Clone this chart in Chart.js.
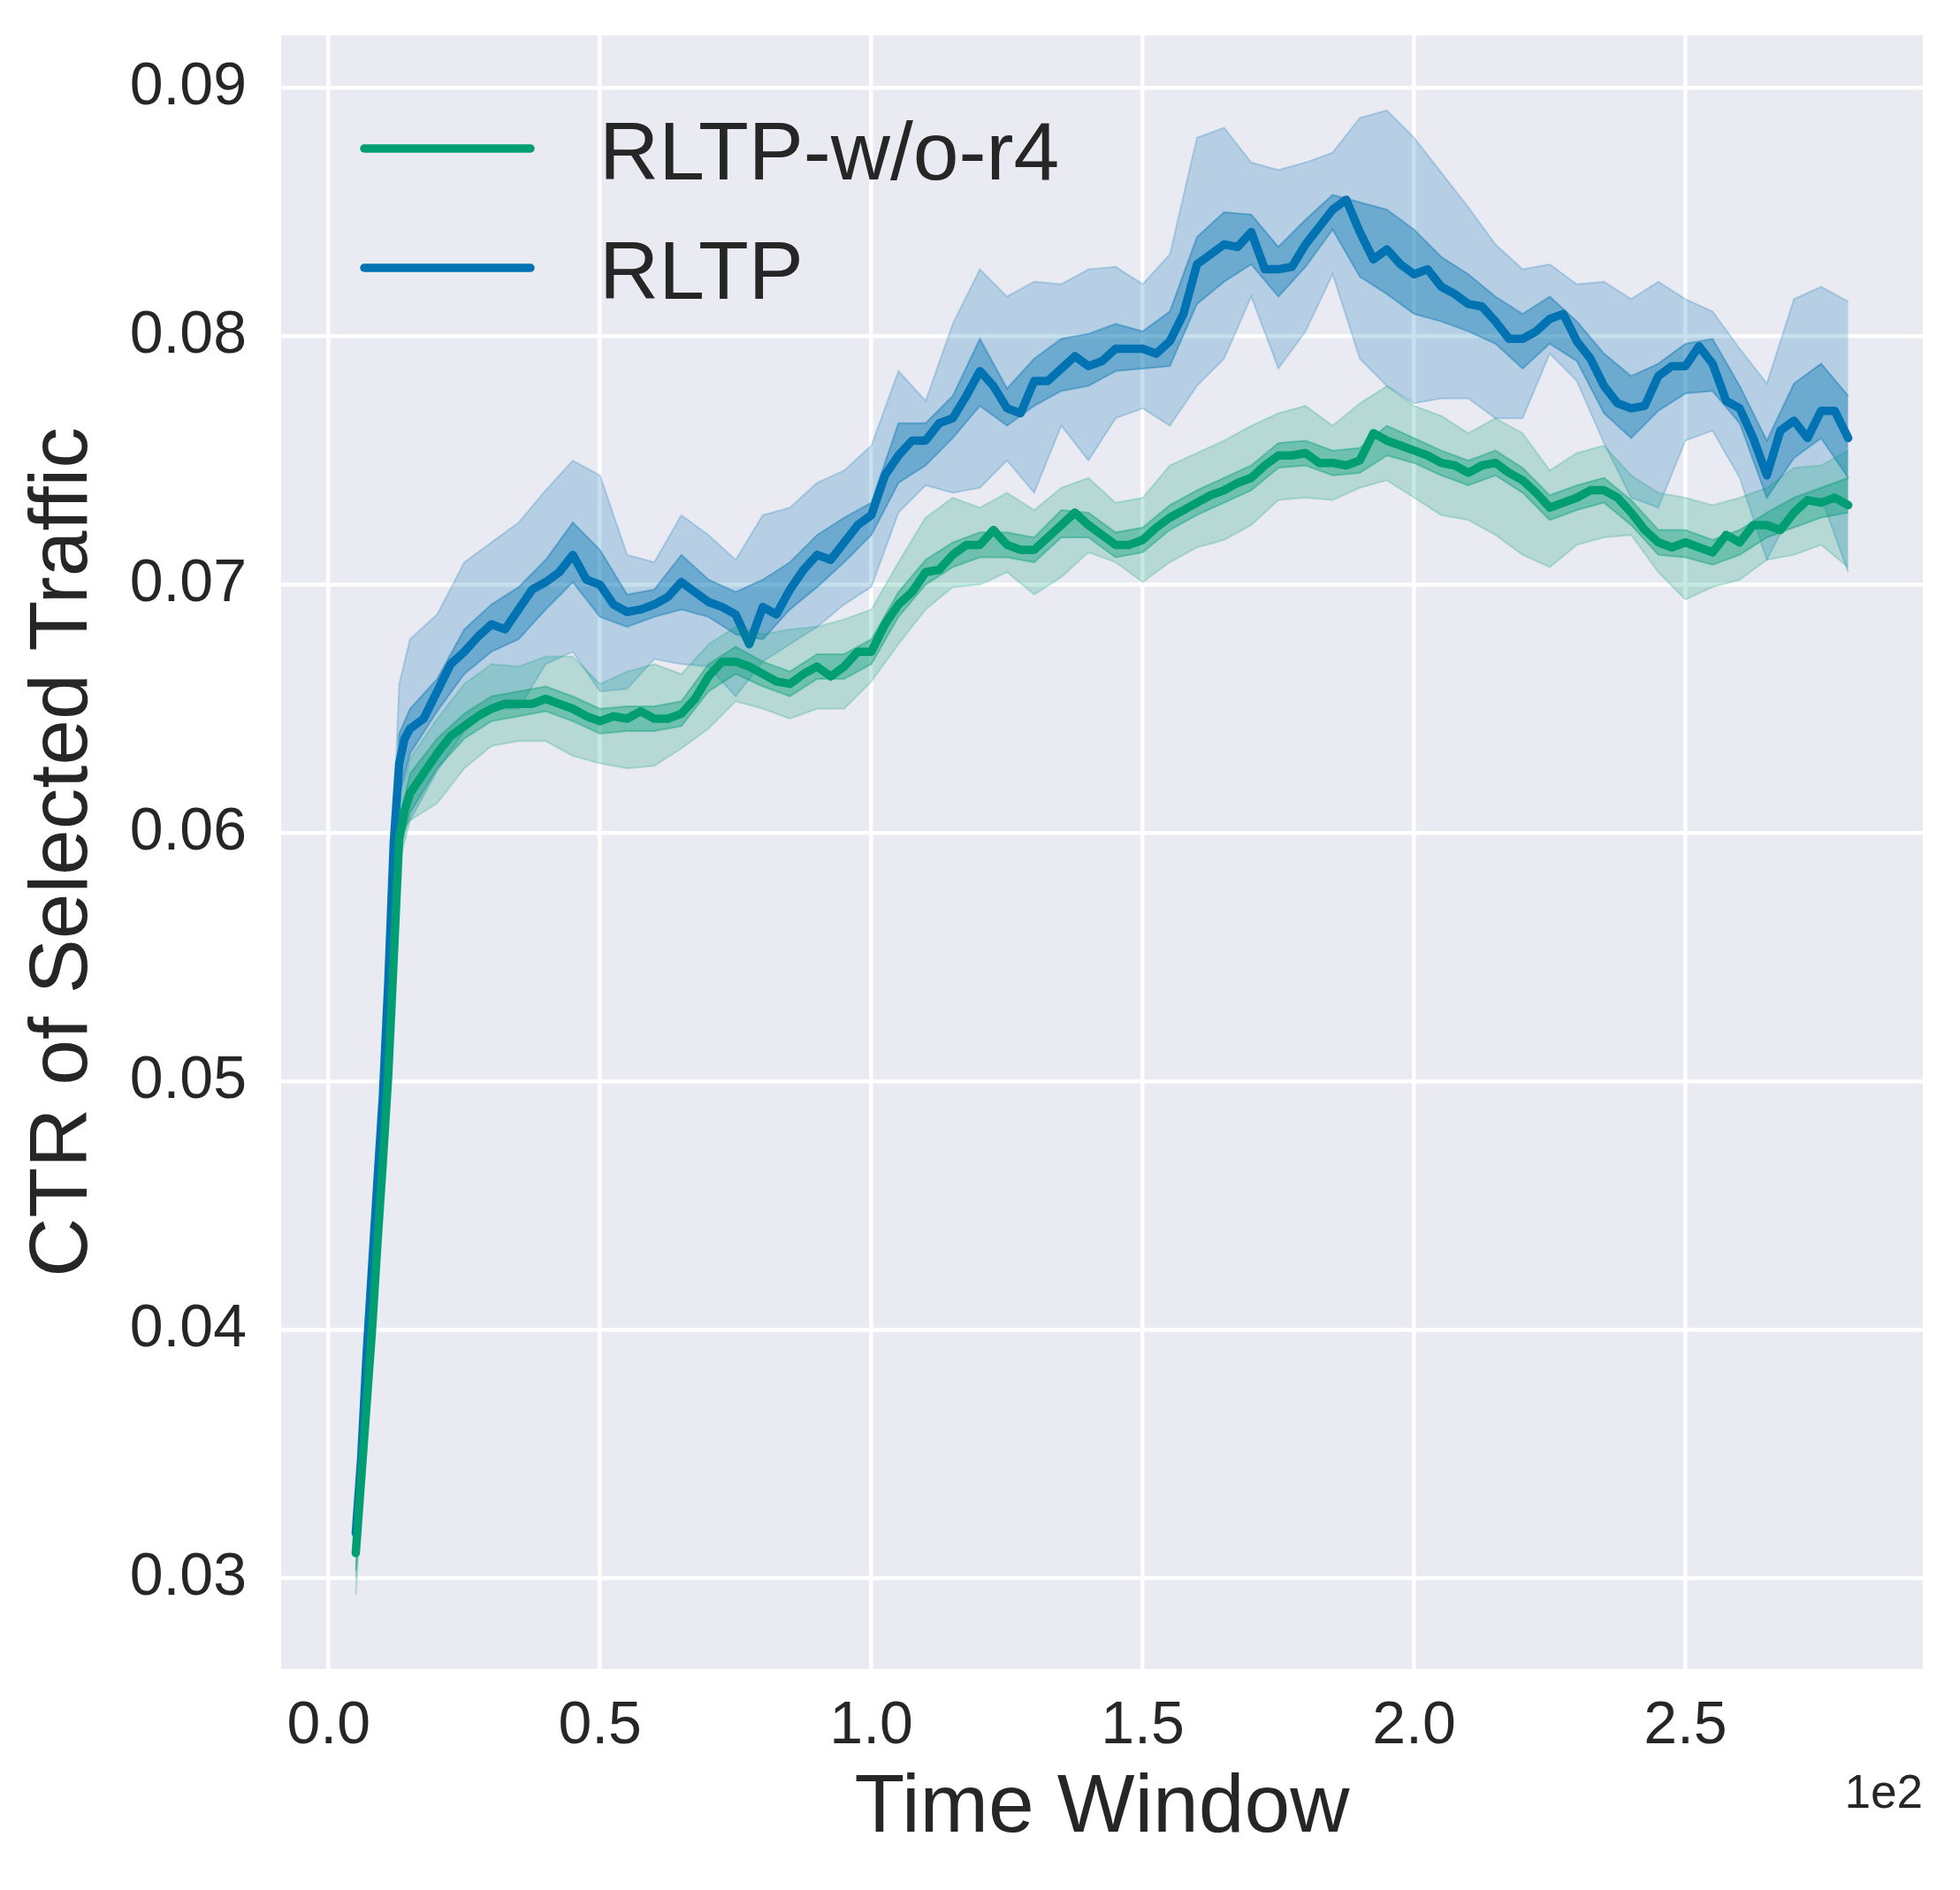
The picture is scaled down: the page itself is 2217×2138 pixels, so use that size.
<!DOCTYPE html>
<html>
<head>
<meta charset="utf-8">
<script src="https://cdn.jsdelivr.net/npm/chart.js@4.4.1/dist/chart.umd.min.js"></script>
<style>
  html, body { margin: 0; padding: 0; background: #fff; }
  #chart { display: block; }
</style>
</head>
<body>
<canvas id="chart" width="2217" height="2138"></canvas>
<script>
// time windows of the mean curves (raw units, axis shows them x1e2)
const tMean = [5, 6, 7, 8, 9, 10, 11, 12, 13, 14,
  15, 17.5, 20, 22.5, 25, 27.5, 30, 32.5, 35, 37.5,
  40, 42.5, 45, 47.5, 50, 52.5, 55, 57.5, 60, 62.5,
  65, 67.5, 70, 72.5, 75, 77.5, 80, 82.5, 85, 87.5,
  90, 92.5, 95, 97.5, 100, 102.5, 105, 107.5, 110, 112.5,
  115, 117.5, 120, 122.5, 125, 127.5, 130, 132.5, 135, 137.5,
  140, 142.5, 145, 147.5, 150, 152.5, 155, 157.5, 160, 162.5,
  165, 167.5, 170, 172.5, 175, 177.5, 180, 182.5, 185, 187.5,
  190, 192.5, 195, 197.5, 200, 202.5, 205, 207.5, 210, 212.5,
  215, 217.5, 220, 222.5, 225, 227.5, 230, 232.5, 235, 237.5,
  240, 242.5, 245, 247.5, 250, 252.5, 255, 257.5, 260, 262.5,
  265, 267.5, 270, 272.5, 275, 277.5, 280];

const rltpMean = [0.0318, 0.0348, 0.0390, 0.0425, 0.0460, 0.0494, 0.0540, 0.0596, 0.0628, 0.0638,
  0.0642, 0.0646, 0.0657, 0.0668, 0.0673, 0.0679, 0.0684, 0.0682, 0.0690, 0.0698,
  0.0701, 0.0705, 0.0712, 0.0702, 0.0700, 0.0692, 0.0689, 0.0690, 0.0692, 0.0695,
  0.0701, 0.0697, 0.0693, 0.0691, 0.0688, 0.0676, 0.0691, 0.0688, 0.0698, 0.0706,
  0.0712, 0.0710, 0.0717, 0.0724, 0.0728, 0.0744, 0.0752, 0.0758, 0.0758, 0.0765,
  0.0767, 0.0776, 0.0786, 0.0780, 0.0771, 0.0769, 0.0782, 0.0782, 0.0787, 0.0792,
  0.0788, 0.0790, 0.0795, 0.0795, 0.0795, 0.0793, 0.0798, 0.0809, 0.0829, 0.0833,
  0.0837, 0.0836, 0.0842, 0.0827, 0.0827, 0.0828, 0.0837, 0.0844, 0.0851, 0.0855,
  0.0842, 0.0831, 0.0835, 0.0829, 0.0825, 0.0827, 0.0820, 0.0817, 0.0813, 0.0812,
  0.0806, 0.0799, 0.0799, 0.0802, 0.0807, 0.0809, 0.0798, 0.0791, 0.0780, 0.0773,
  0.0771, 0.0772, 0.0784, 0.0788, 0.0788, 0.0796, 0.0789, 0.0774, 0.0771, 0.0759,
  0.0744, 0.0762, 0.0766, 0.0759, 0.0770, 0.0770, 0.0759];

const noR4Mean = [0.0310, 0.0340, 0.0370, 0.0400, 0.0435, 0.0468, 0.0503, 0.0550, 0.0598, 0.0609,
  0.0616, 0.0624, 0.0632, 0.0639, 0.0643, 0.0647, 0.0650, 0.0652, 0.0652, 0.0652,
  0.0654, 0.0652, 0.0650, 0.0647, 0.0645, 0.0647, 0.0646, 0.0649, 0.0646, 0.0646,
  0.0648, 0.0654, 0.0663, 0.0669, 0.0669, 0.0667, 0.0664, 0.0661, 0.0660, 0.0664,
  0.0667, 0.0663, 0.0667, 0.0673, 0.0673, 0.0684, 0.0692, 0.0697, 0.0705, 0.0706,
  0.0712, 0.0716, 0.0716, 0.0722, 0.0716, 0.0714, 0.0714, 0.0719, 0.0724, 0.0729,
  0.0724, 0.0720, 0.0716, 0.0716, 0.0718, 0.0723, 0.0727, 0.0730, 0.0733, 0.0736,
  0.0738, 0.0741, 0.0743, 0.0748, 0.0752, 0.0752, 0.0753, 0.0749, 0.0749, 0.0748,
  0.0750, 0.0761, 0.0758, 0.0756, 0.0754, 0.0752, 0.0749, 0.0748, 0.0745, 0.0748,
  0.0749, 0.0745, 0.0742, 0.0737, 0.0731, 0.0733, 0.0735, 0.0738, 0.0738, 0.0735,
  0.0729, 0.0722, 0.0717, 0.0715, 0.0717, 0.0715, 0.0713, 0.0720, 0.0717, 0.0724,
  0.0724, 0.0722, 0.0729, 0.0734, 0.0733, 0.0735, 0.0732];

// time windows of the shaded bands
const tBand = [5, 8, 11, 13,
  15, 20, 25, 30, 35, 40, 45, 50, 55, 60,
  65, 70, 75, 80, 85, 90, 95, 100, 105, 110,
  115, 120, 125, 130, 135, 140, 145, 150, 155, 160,
  165, 170, 175, 180, 185, 190, 195, 200, 205, 210,
  215, 220, 225, 230, 235, 240, 245, 250, 255, 260,
  265, 270, 275, 280];

const rltpOuterLo = [0.0300, 0.0410, 0.0525, 0.0600,
  0.0605, 0.0625, 0.0641, 0.0650, 0.0650, 0.0668, 0.0673, 0.0657, 0.0658, 0.0670,
  0.0668, 0.0667, 0.0655, 0.0669, 0.0676, 0.0683, 0.0692, 0.0699, 0.0729, 0.0740,
  0.0737, 0.0739, 0.0750, 0.0737, 0.0764, 0.0750, 0.0767, 0.0771, 0.0764, 0.0780,
  0.0791, 0.0816, 0.0787, 0.0802, 0.0825, 0.0791, 0.0780, 0.0773, 0.0775, 0.0775,
  0.0767, 0.0767, 0.0793, 0.0782, 0.0757, 0.0735, 0.0731, 0.0758, 0.0762, 0.0743,
  0.0710, 0.0731, 0.0735, 0.0705];
const rltpOuterHi = [0.0332, 0.0438, 0.0552, 0.0660,
  0.0678, 0.0688, 0.0709, 0.0717, 0.0725, 0.0738, 0.0750, 0.0744, 0.0712, 0.0709,
  0.0728, 0.0720, 0.0710, 0.0728, 0.0731, 0.0741, 0.0746, 0.0756, 0.0786, 0.0774,
  0.0805, 0.0827, 0.0816, 0.0822, 0.0821, 0.0827, 0.0828, 0.0821, 0.0833, 0.0880,
  0.0884, 0.0870, 0.0867, 0.0870, 0.0874, 0.0888, 0.0891, 0.0880, 0.0866, 0.0852,
  0.0837, 0.0827, 0.0829, 0.0821, 0.0822, 0.0815, 0.0822, 0.0815, 0.0810, 0.0795,
  0.0781, 0.0815, 0.0820, 0.0814];
const rltpInnerLo = [0.0310, 0.0418, 0.0532, 0.0614,
  0.0632, 0.0649, 0.0664, 0.0673, 0.0678, 0.0690, 0.0701, 0.0687, 0.0683, 0.0687,
  0.0690, 0.0687, 0.0680, 0.0678, 0.0690, 0.0699, 0.0709, 0.0720, 0.0741, 0.0748,
  0.0759, 0.0772, 0.0764, 0.0772, 0.0778, 0.0780, 0.0786, 0.0787, 0.0788, 0.0813,
  0.0822, 0.0829, 0.0816, 0.0828, 0.0843, 0.0824, 0.0817, 0.0809, 0.0806, 0.0802,
  0.0797, 0.0787, 0.0797, 0.0790, 0.0769, 0.0759, 0.0770, 0.0777, 0.0778, 0.0765,
  0.0735, 0.0751, 0.0759, 0.0743];
const rltpInnerHi = [0.0325, 0.0431, 0.0546, 0.0640,
  0.0650, 0.0662, 0.0682, 0.0692, 0.0699, 0.0710, 0.0725, 0.0714, 0.0696, 0.0698,
  0.0712, 0.0702, 0.0697, 0.0702, 0.0709, 0.0720, 0.0727, 0.0733, 0.0765, 0.0765,
  0.0776, 0.0799, 0.0779, 0.0791, 0.0799, 0.0801, 0.0805, 0.0802, 0.0810, 0.0840,
  0.0850, 0.0849, 0.0836, 0.0847, 0.0857, 0.0854, 0.0851, 0.0843, 0.0832, 0.0825,
  0.0816, 0.0809, 0.0816, 0.0806, 0.0793, 0.0784, 0.0789, 0.0797, 0.0799, 0.0780,
  0.0758, 0.0781, 0.0789, 0.0776];

const noR4OuterLo = [0.0293, 0.0390, 0.0493, 0.0588,
  0.0605, 0.0612, 0.0626, 0.0635, 0.0637, 0.0637, 0.0631, 0.0628, 0.0626, 0.0627,
  0.0634, 0.0642, 0.0653, 0.0650, 0.0646, 0.0650, 0.0650, 0.0661, 0.0676, 0.0690,
  0.0699, 0.0700, 0.0705, 0.0696, 0.0703, 0.0713, 0.0709, 0.0701, 0.0709, 0.0715,
  0.0718, 0.0724, 0.0734, 0.0735, 0.0734, 0.0739, 0.0742, 0.0735, 0.0728, 0.0726,
  0.0720, 0.0712, 0.0707, 0.0716, 0.0719, 0.0720, 0.0705, 0.0694, 0.0699, 0.0702,
  0.0710, 0.0712, 0.0716, 0.0707];
const noR4OuterHi = [0.0322, 0.0412, 0.0514, 0.0610,
  0.0630, 0.0646, 0.0660, 0.0668, 0.0667, 0.0671, 0.0671, 0.0660, 0.0665, 0.0668,
  0.0664, 0.0676, 0.0683, 0.0680, 0.0682, 0.0683, 0.0686, 0.0690, 0.0709, 0.0727,
  0.0735, 0.0731, 0.0737, 0.0730, 0.0739, 0.0743, 0.0733, 0.0735, 0.0748, 0.0753,
  0.0758, 0.0764, 0.0769, 0.0772, 0.0764, 0.0773, 0.0780, 0.0772, 0.0768, 0.0761,
  0.0767, 0.0761, 0.0746, 0.0753, 0.0756, 0.0744, 0.0737, 0.0735, 0.0732, 0.0735,
  0.0739, 0.0747, 0.0748, 0.0754];
const noR4InnerLo = [0.0303, 0.0395, 0.0498, 0.0592,
  0.0608, 0.0626, 0.0638, 0.0645, 0.0647, 0.0649, 0.0645, 0.0640, 0.0641, 0.0641,
  0.0643, 0.0657, 0.0664, 0.0659, 0.0655, 0.0662, 0.0662, 0.0668, 0.0687, 0.0700,
  0.0707, 0.0711, 0.0711, 0.0709, 0.0719, 0.0719, 0.0711, 0.0713, 0.0722, 0.0728,
  0.0733, 0.0738, 0.0747, 0.0748, 0.0744, 0.0745, 0.0752, 0.0749, 0.0744, 0.0740,
  0.0744, 0.0737, 0.0726, 0.0730, 0.0733, 0.0724, 0.0712, 0.0711, 0.0708, 0.0712,
  0.0719, 0.0723, 0.0727, 0.0729];
const noR4InnerHi = [0.0316, 0.0406, 0.0509, 0.0605,
  0.0624, 0.0638, 0.0648, 0.0655, 0.0657, 0.0659, 0.0655, 0.0650, 0.0651, 0.0651,
  0.0653, 0.0668, 0.0675, 0.0669, 0.0665, 0.0672, 0.0672, 0.0678, 0.0697, 0.0710,
  0.0717, 0.0721, 0.0721, 0.0719, 0.0730, 0.0729, 0.0721, 0.0723, 0.0732, 0.0738,
  0.0743, 0.0748, 0.0757, 0.0758, 0.0754, 0.0755, 0.0764, 0.0759, 0.0754, 0.0750,
  0.0754, 0.0747, 0.0736, 0.0740, 0.0743, 0.0734, 0.0722, 0.0722, 0.0718, 0.0722,
  0.0729, 0.0735, 0.0739, 0.0743];

const seriesNames = ['RLTP-w/o-r4', 'RLTP'];
const xTickVals = [0, 50, 100, 150, 200, 250];
const xTickLabels = ['0.0', '0.5', '1.0', '1.5', '2.0', '2.5'];
const yTickVals = [0.03, 0.04, 0.05, 0.06, 0.07, 0.08, 0.09];
const yTickLabels = ['0.03', '0.04', '0.05', '0.06', '0.07', '0.08', '0.09'];

const GREEN = '2, 158, 115';
const BLUE = '1, 115, 178';
const FONT = '"Liberation Sans", Arial, sans-serif';
const INK = '#262626';

function pts(xs, ys) {
    return xs.map((x, i) => ({ x: x, y: ys[i] }));
}

function meanLine(label, xs, ys, rgb, order) {
    return {
        label: label,
        data: pts(xs, ys),
        borderColor: 'rgb(' + rgb + ')',
        borderWidth: 9.5,
        borderCapStyle: 'round',
        borderJoinStyle: 'round',
        pointRadius: 0,
        fill: false,
        tension: 0,
        order: order
    };
}

function bandEdge(xs, ys, rgb, alpha, order, fill) {
    return {
        label: '',
        data: pts(xs, ys),
        borderColor: 'rgba(' + rgb + ',' + alpha + ')',
        borderWidth: 2,
        backgroundColor: 'rgba(' + rgb + ',' + alpha + ')',
        pointRadius: 0,
        fill: fill,
        tension: 0,
        order: order
    };
}

const plotBg = {
    id: 'plotBg',
    beforeDraw(chart) {
        const { ctx, chartArea: a } = chart;
        ctx.save();
        ctx.fillStyle = '#fff';
        ctx.fillRect(0, 0, chart.width, chart.height);
        ctx.fillStyle = '#EAEAF2';
        ctx.fillRect(a.left, a.top, a.right - a.left, a.bottom - a.top);
        ctx.restore();
    }
};

const extras = {
    id: 'extras',
    afterDraw(chart) {
        const { ctx, chartArea: a } = chart;
        const colors = [GREEN, BLUE];
        ctx.save();
        seriesNames.forEach((name, i) => {
            const y = a.top + 128 + i * 135;
            ctx.strokeStyle = 'rgb(' + colors[i] + ')';
            ctx.lineWidth = 9.5;
            ctx.lineCap = 'round';
            ctx.beginPath();
            ctx.moveTo(a.left + 94, y);
            ctx.lineTo(a.left + 282, y);
            ctx.stroke();
            ctx.fillStyle = INK;
            ctx.font = '93px ' + FONT;
            ctx.textAlign = 'left';
            ctx.textBaseline = 'alphabetic';
            ctx.fillText(name, a.left + 360, y + 35);
        });
        // offset text of the x axis
        ctx.font = '53px ' + FONT;
        ctx.textAlign = 'right';
        ctx.fillText('1e2', a.right, 2045);
        ctx.restore();
    }
};

new Chart(document.getElementById('chart').getContext('2d'), {
    type: 'line',
    data: {
        datasets: [
            meanLine(seriesNames[0], tMean, noR4Mean, GREEN, 0),
            bandEdge(tBand, noR4InnerLo, GREEN, 0.40, 1, false),
            bandEdge(tBand, noR4InnerHi, GREEN, 0.40, 1, '-1'),
            bandEdge(tBand, noR4OuterLo, GREEN, 0.22, 2, false),
            bandEdge(tBand, noR4OuterHi, GREEN, 0.22, 2, '-1'),
            meanLine(seriesNames[1], tMean, rltpMean, BLUE, 3),
            bandEdge(tBand, rltpInnerLo, BLUE, 0.40, 4, false),
            bandEdge(tBand, rltpInnerHi, BLUE, 0.40, 4, '-1'),
            bandEdge(tBand, rltpOuterLo, BLUE, 0.22, 5, false),
            bandEdge(tBand, rltpOuterHi, BLUE, 0.22, 5, '-1')
        ]
    },
    options: {
        responsive: false,
        devicePixelRatio: 1,
        animation: false,
        layout: { padding: { top: 40, right: 42, left: 0, bottom: 0 } },
        plugins: {
            legend: { display: false },
            tooltip: { enabled: false }
        },
        scales: {
            x: {
                type: 'linear',
                min: -8.75,
                max: 293.75,
                afterBuildTicks: (scale) => { scale.ticks = xTickVals.map(v => ({ value: v })); },
                afterFit: (scale) => {
                    scale.height = 250;
                    scale.paddingLeft = 0;
                    scale.paddingRight = 0;
                },
                grid: { color: '#fff', lineWidth: 4.5, drawTicks: false },
                border: { display: false },
                ticks: {
                    autoSkip: false,
                    maxRotation: 0,
                    padding: 24,
                    color: INK,
                    font: { family: FONT, size: 68 },
                    callback: (v) => xTickLabels[xTickVals.indexOf(v)]
                },
                title: {
                    display: true,
                    text: 'Time Window',
                    color: INK,
                    font: { family: FONT, size: 93 },
                    padding: { top: 0, bottom: 36 }
                }
            },
            y: {
                type: 'linear',
                min: 0.02633,
                max: 0.09212,
                afterBuildTicks: (scale) => { scale.ticks = yTickVals.map(v => ({ value: v })); },
                afterFit: (scale) => {
                    scale.width = 318;
                    scale.paddingTop = 0;
                    scale.paddingBottom = 0;
                },
                grid: { color: '#fff', lineWidth: 4.5, drawTicks: false },
                border: { display: false },
                ticks: {
                    padding: 39,
                    color: INK,
                    font: { family: FONT, size: 68 },
                    callback: (v) => yTickLabels[yTickVals.indexOf(v)]
                },
                title: {
                    display: true,
                    text: 'CTR of Selected Traffic',
                    color: INK,
                    font: { family: FONT, size: 93 },
                    padding: { top: 17, bottom: 0 }
                }
            }
        }
    },
    plugins: [plotBg, extras]
});
</script>
</body>
</html>
